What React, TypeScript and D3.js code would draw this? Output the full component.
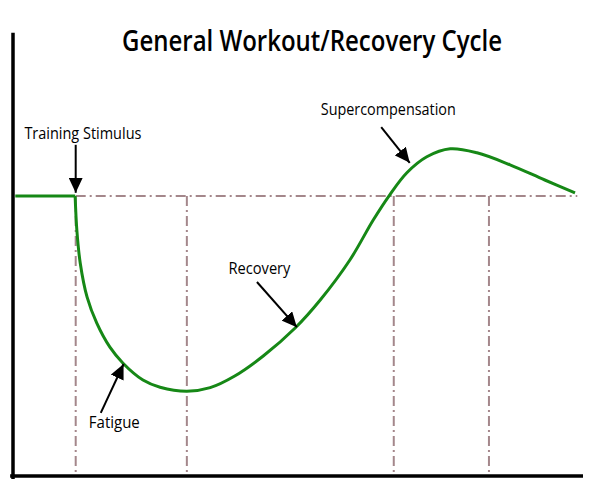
import * as d3 from "d3";

// time axis (arbitrary units) and performance level relative to baseline (0)
const curveX = [1.09, 1.12, 1.18, 1.3, 1.47, 1.7, 1.93, 2.28, 2.58, 3.05, 3.46, 3.89, 4.39, 4.95, 5.39, 5.91, 6.32, 6.61, 6.91, 7.26, 7.67, 8.14, 8.72, 9.33, 9.86];
const curveY = [0, -0.85, -1.68, -2.53, -3.18, -3.78, -4.18, -4.6, -4.78, -4.88, -4.79, -4.5, -4.0, -3.3, -2.6, -1.6, -0.6, 0.03, 0.58, 0.98, 1.18, 1.08, 0.78, 0.4, 0.08];
const flatX = [0.04, 1.09];
const phaseX = [1.1, 3.05, 6.68, 8.35];
const baselineEnd = 9.9;

const labels = ["Training Stimulus", "Supercompensation", "Recovery", "Fatigue"];
const labelX = [0.2, 5.4, 3.78, 1.33];
const labelY = [1.42, 2.03, -1.95, -5.8];
const arrowFrom = [[1.1, 1.28], [6.46, 1.72], [4.28, -2.15], [1.54, -5.42]];
const arrowTo = [[1.1, 0.08], [6.96, 0.83], [4.98, -3.28], [1.94, -4.2]];

const title = "General Workout/Recovery Cycle";

const W = 600, H = 492;
const FONT = "'Open Sans', 'Noto Sans', sans-serif";
const labelWidths = [117, 135, 62, 51];

export default function App() {
  const x = d3.scaleLinear().domain([0, 10]).range([13, 583]);
  const y = d3.scaleLinear().domain([-7, 4]).range([476, 36]);

  const pts = curveX.map((v, i) => [v, curveY[i]] as [number, number]);
  const line = d3.line<[number, number]>()
    .x(d => x(d[0]))
    .y(d => y(d[1]))
    .curve(d3.curveCatmullRom.alpha(0.5));

  const green = "#168816";
  const guide = "#a4878b";

  return (
    <svg width={W} height={H} style={{ position: "absolute", left: 0, top: 0, background: "#fff" }}>
      <defs>
        <marker id="head" markerUnits="userSpaceOnUse" markerWidth={15} markerHeight={14}
          refX={15} refY={7} orient="auto">
          <path d="M0,0 L15,7 L0,14 z" fill="#000" />
        </marker>
      </defs>

      {/* dash-dot guides */}
      <line x1={x(phaseX[0])} x2={x(baselineEnd)} y1={y(0)} y2={y(0)}
        stroke={guide} strokeWidth={2} strokeDasharray="10,4,2,4" />
      {phaseX.map((p, i) => (
        <line key={i} x1={x(p)} x2={x(p)} y1={y(0)} y2={y(-7)}
          stroke={guide} strokeWidth={2} strokeDasharray="10,4,2,4" />
      ))}

      {/* axes */}
      <line x1={x(0)} x2={x(0)} y1={y(4.08)} y2={y(-7) + 3} stroke="#000" strokeWidth={3.5} />
      <line x1={x(-0.05)} x2={x(10)} y1={y(-7)} y2={y(-7)} stroke="#000" strokeWidth={3.5} />

      {/* curve */}
      <line x1={x(flatX[0])} x2={x(flatX[1])} y1={y(0)} y2={y(0)} stroke={green} strokeWidth={3} />
      <path d={line(pts) ?? ""} fill="none" stroke={green} strokeWidth={3} />

      {/* annotations */}
      {labels.map((t, i) => (
        <g key={t}>
          <text x={x(labelX[i])} y={y(labelY[i])} fontFamily={FONT} fontSize={16} fill="#000"
            textLength={labelWidths[i]} lengthAdjust="spacingAndGlyphs">{t}</text>
          <line x1={x(arrowFrom[i][0])} y1={y(arrowFrom[i][1])} x2={x(arrowTo[i][0])} y2={y(arrowTo[i][1])}
            stroke="#000" strokeWidth={2} markerEnd="url(#head)" />
        </g>
      ))}

      <text x={122} y={51} fontFamily={FONT} fontSize={28} fontWeight={600} fill="#000"
        textLength={380} lengthAdjust="spacingAndGlyphs">{title}</text>
    </svg>
  );
}
